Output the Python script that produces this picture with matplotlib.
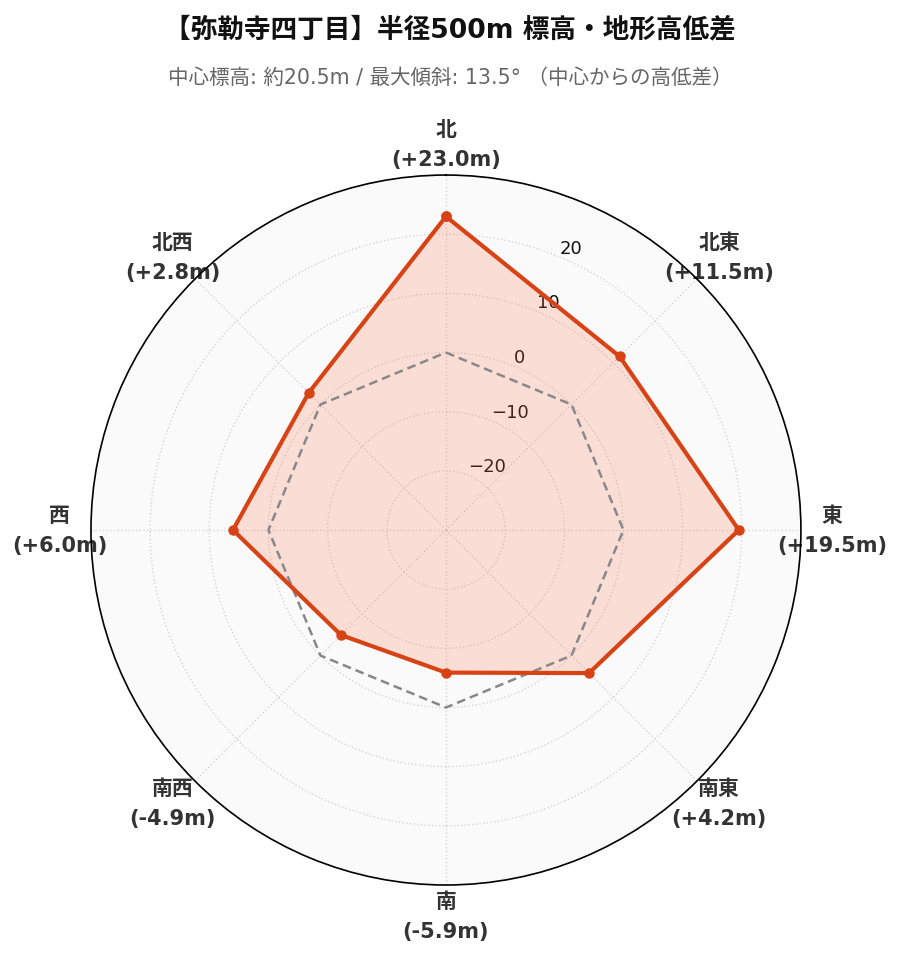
import numpy as np
import matplotlib
matplotlib.use("Agg")
import matplotlib.pyplot as plt

# direction labels (clockwise from north) and height difference from center [m]
directions = ["北", "北東", "東", "南東", "南", "南西", "西", "北西"]
diffs = [23.0, 11.5, 19.5, 4.2, -5.9, -4.9, 6.0, 2.8]
r_ticks = [-20, -10, 0, 10, 20]

title = "【弥勒寺四丁目】半径500m 標高・地形高低差"
subtitle = "中心標高: 約20.5m / 最大傾斜: 13.5° （中心からの高低差）"

fonts = ["DejaVu Sans", "Noto Sans CJK JP"]
line_color = "#D84315"
fill_color = "#FF7043"

fig = plt.figure(figsize=(9, 9.62), dpi=100)
ax = fig.add_axes([0.101, 0.079, 0.789, 0.738], projection="polar")
ax.set_theta_zero_location("N")
ax.set_theta_direction(-1)
ax.set_facecolor("#fafafa")

angles = np.linspace(0, 2 * np.pi, len(directions), endpoint=False)
ang_closed = np.append(angles, angles[0])
vals_closed = np.append(diffs, diffs[0])

ax.fill(ang_closed, vals_closed, color=fill_color, alpha=0.2, zorder=2)
# zero reference
ax.plot(ang_closed, np.zeros_like(ang_closed), color="#888888", lw=1.8,
        ls=(0, (3.5, 2)), zorder=3)
ax.plot(ang_closed, vals_closed, color=line_color, lw=3, marker="o",
        markersize=6.5, zorder=4)

ax.set_ylim(-30, 30)
ax.set_yticks(r_ticks)
ax.set_yticklabels([f"{t}".replace("-", "\u2212") for t in r_ticks],
                   fontsize=13, family=fonts, color="#111111")
ax.set_rlabel_position(22.5)

ax.set_xticks(angles)
ax.set_xticklabels([f"{d}\n({v:+.1f}m)" for d, v in zip(directions, diffs)],
                   fontsize=15, fontweight="bold", family=fonts,
                   color="#333333", linespacing=1.6)
ax.tick_params(axis="x", pad=12)

ax.grid(True, color="#d5d5d5", ls=":", lw=1)
ax.spines["polar"].set_color("black")
ax.spines["polar"].set_linewidth(1.2)

fig.text(0.5, 0.968, title, ha="center", va="center", fontsize=19.2,
         fontweight="bold", family=fonts, color="#111111")
fig.text(0.5, 0.919, subtitle, ha="center", va="center", fontsize=14.8,
         family=fonts, color="#666666")

fig.savefig("out.png", dpi=100)
